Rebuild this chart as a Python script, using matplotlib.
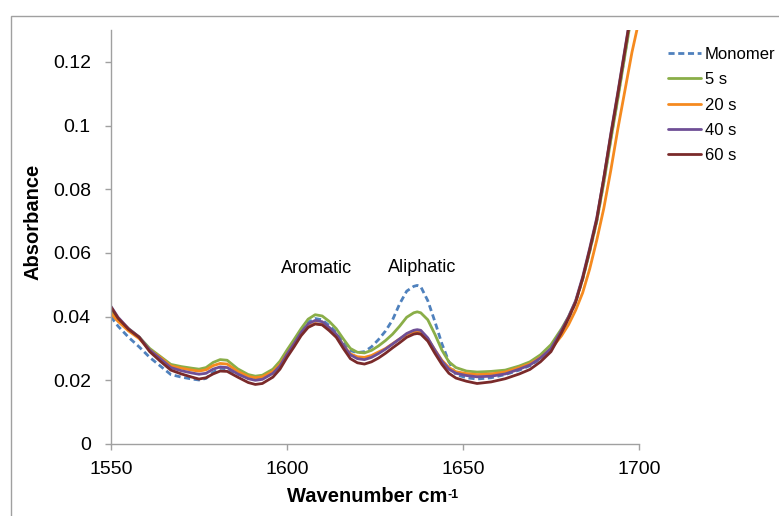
import matplotlib
matplotlib.use("Agg")
import matplotlib.pyplot as plt
from matplotlib.patches import Rectangle

plt.rcParams['font.family'] = ['Liberation Sans', 'DejaVu Sans']

wavenumber = [1550, 1552, 1555, 1558, 1561, 1564, 1567, 1570, 1573, 1575, 1577, 1579, 1581, 1583,
              1586, 1589, 1591, 1593, 1596, 1598, 1600, 1602, 1604, 1606, 1608, 1610, 1612, 1614,
              1616, 1618, 1620, 1622, 1624, 1626, 1628, 1630, 1632, 1634, 1636, 1637, 1638, 1640,
              1642, 1644, 1646, 1648, 1651, 1654, 1658, 1662, 1666, 1669, 1672, 1675, 1678, 1680,
              1682, 1684, 1686, 1688, 1690, 1692, 1694, 1696, 1698, 1700]

monomer = [0.0400, 0.0370, 0.0335, 0.0305, 0.0272, 0.0245, 0.0218, 0.0210, 0.0204, 0.0201, 0.0206,
           0.0225, 0.0238, 0.0236, 0.0220, 0.0207, 0.0204, 0.0207, 0.0225, 0.0250, 0.0287, 0.0320,
           0.0355, 0.0382, 0.0394, 0.0390, 0.0372, 0.0350, 0.0318, 0.0293, 0.0287, 0.0290, 0.0305,
           0.0328, 0.0355, 0.0390, 0.0440, 0.0480, 0.0495, 0.0498, 0.0494, 0.0450, 0.0385, 0.0315,
           0.0258, 0.0218, 0.0208, 0.0204, 0.0208, 0.0218, 0.0232, 0.0246, 0.0268, 0.0300, 0.0350,
           0.0395, 0.0445, 0.0518, 0.0605, 0.0700, 0.0825, 0.0960, 0.1090, 0.1225, 0.1360, 0.1495]

s5 = [0.0420, 0.0392, 0.0362, 0.0336, 0.0300, 0.0275, 0.0250, 0.0243, 0.0238, 0.0235, 0.0240,
      0.0256, 0.0265, 0.0263, 0.0236, 0.0218, 0.0213, 0.0216, 0.0235, 0.0260, 0.0295, 0.0328,
      0.0362, 0.0392, 0.0406, 0.0402, 0.0385, 0.0362, 0.0330, 0.0300, 0.0288, 0.0286, 0.0294,
      0.0308, 0.0325, 0.0345, 0.0370, 0.0398, 0.0412, 0.0415, 0.0412, 0.0390, 0.0345, 0.0295,
      0.0258, 0.0240, 0.0229, 0.0226, 0.0228, 0.0232, 0.0245, 0.0258, 0.0280, 0.0312, 0.0362,
      0.0400, 0.0448, 0.0518, 0.0605, 0.0700, 0.0820, 0.0955, 0.1085, 0.1220, 0.1355, 0.1490]

s20 = [0.0410, 0.0385, 0.0355, 0.0331, 0.0295, 0.0272, 0.0245, 0.0238, 0.0232, 0.0229, 0.0233,
       0.0246, 0.0253, 0.0251, 0.0228, 0.0212, 0.0208, 0.0211, 0.0228, 0.0250, 0.0283, 0.0314,
       0.0346, 0.0369, 0.0378, 0.0375, 0.0360, 0.0340, 0.0310, 0.0283, 0.0274, 0.0272, 0.0278,
       0.0289, 0.0300, 0.0315, 0.0330, 0.0344, 0.0352, 0.0354, 0.0352, 0.0330, 0.0296, 0.0263,
       0.0240, 0.0227, 0.0221, 0.0218, 0.0220, 0.0226, 0.0240, 0.0252, 0.0272, 0.0298, 0.0340,
       0.0375, 0.0420, 0.0475, 0.0550, 0.0640, 0.0740, 0.0860, 0.0990, 0.1110, 0.1230, 0.1330]

s40 = [0.0432, 0.0398, 0.0362, 0.0336, 0.0295, 0.0268, 0.0240, 0.0230, 0.0223, 0.0219, 0.0222,
       0.0235, 0.0242, 0.0240, 0.0220, 0.0205, 0.0200, 0.0203, 0.0222, 0.0245, 0.0282, 0.0315,
       0.0350, 0.0377, 0.0388, 0.0384, 0.0366, 0.0345, 0.0310, 0.0280, 0.0268, 0.0265, 0.0272,
       0.0284, 0.0298, 0.0314, 0.0330, 0.0347, 0.0357, 0.0359, 0.0357, 0.0333, 0.0295, 0.0260,
       0.0235, 0.0222, 0.0215, 0.0211, 0.0213, 0.0220, 0.0235, 0.0248, 0.0270, 0.0300, 0.0357,
       0.0400, 0.0450, 0.0525, 0.0615, 0.0710, 0.0835, 0.0975, 0.1105, 0.1240, 0.1375, 0.1505]

s60 = [0.0430, 0.0395, 0.0360, 0.0335, 0.0290, 0.0260, 0.0232, 0.0220, 0.0210, 0.0204, 0.0208,
       0.0220, 0.0229, 0.0228, 0.0210, 0.0193, 0.0187, 0.0190, 0.0210, 0.0235, 0.0272, 0.0305,
       0.0340, 0.0366, 0.0377, 0.0374, 0.0356, 0.0335, 0.0300, 0.0268, 0.0255, 0.0251, 0.0258,
       0.0270, 0.0285, 0.0302, 0.0318, 0.0335, 0.0345, 0.0347, 0.0345, 0.0323, 0.0285, 0.0250,
       0.0222, 0.0207, 0.0197, 0.0190, 0.0195, 0.0205, 0.0220, 0.0234, 0.0258, 0.0290, 0.0350,
       0.0395, 0.0445, 0.0520, 0.0610, 0.0705, 0.0835, 0.0970, 0.1100, 0.1235, 0.1370, 0.1500]

series_labels = ['Monomer', '5 s', '20 s', '40 s', '60 s']
series_values = [monomer, s5, s20, s40, s60]
series_colors = ['#4F81BD', '#8AAE48', '#F58A1F', '#6F4F96', '#7A2A2A']
series_styles = ['--', '-', '-', '-', '-']

x_ticks = [1550, 1600, 1650, 1700]
y_ticks = [0, 0.02, 0.04, 0.06, 0.08, 0.1, 0.12]
y_tick_labels = ['0', '0.02', '0.04', '0.06', '0.08', '0.1', '0.12']

annotations = [('Aromatic', 1608.3, 0.0550), ('Aliphatic', 1638.3, 0.0554)]

W, H = 779, 516
fig = plt.figure(figsize=(W / 100, H / 100), dpi=100)
ax = fig.add_axes([111 / W, 1 - 444 / H, (639 - 111) / W, (444 - 30) / H])

for vals, lab, col, ls in zip(series_values, series_labels, series_colors, series_styles):
    ax.plot(wavenumber, vals, color=col, linestyle=ls, linewidth=2.0, label=lab,
            dashes=(2.2, 1.3) if ls == '--' else (None, None), solid_capstyle='round')

ax.set_xlim(1550, 1700)
ax.set_ylim(0, 0.13)
ax.set_xticks(x_ticks)
ax.set_xticklabels([str(t) for t in x_ticks])
ax.set_yticks(y_ticks)
ax.set_yticklabels(y_tick_labels)

for side in ['top', 'right']:
    ax.spines[side].set_visible(False)
for side in ['left', 'bottom']:
    ax.spines[side].set_color('#A0A0A0')
    ax.spines[side].set_linewidth(1.0)
ax.tick_params(axis='both', direction='out', length=4.5, width=1.0, color='#A0A0A0',
               labelsize=14, labelcolor='black')
ax.tick_params(axis='y', pad=10)
ax.tick_params(axis='x', pad=8)

for text, xv, yv in annotations:
    ax.text(xv, yv, text, ha='center', va='center', fontsize=13, color='black')

main_lbl = fig.text(367 / W, 1 - 497 / H, 'Wavenumber cm', ha='center', va='center',
                    fontsize=14.5, fontweight='bold')
fig.canvas.draw()
bb = main_lbl.get_window_extent(renderer=fig.canvas.get_renderer())
fig.text((bb.x1 + 0.5) / W, (bb.y1 - 2) / H, '-1', ha='left', va='top',
         fontsize=9, fontweight='bold')

fig.text(33 / W, 1 - 222 / H, 'Absorbance', ha='center', va='center', rotation=90,
         fontsize=14.5, fontweight='bold')

leg = ax.legend(loc='upper left', bbox_to_anchor=(668 / W, 1 - 47 / H),
                bbox_transform=fig.transFigure, frameon=False, fontsize=12,
                handlelength=2.0, handletextpad=0.2, labelspacing=0.62, borderpad=0,
                borderaxespad=0)

fig.patches.append(Rectangle((11 / W, -0.1), 1.2, 1 - 16 / H + 0.1, transform=fig.transFigure,
                             fill=False, edgecolor='#A0A0A0', linewidth=1.0))

fig.savefig('out.png', dpi=100)
